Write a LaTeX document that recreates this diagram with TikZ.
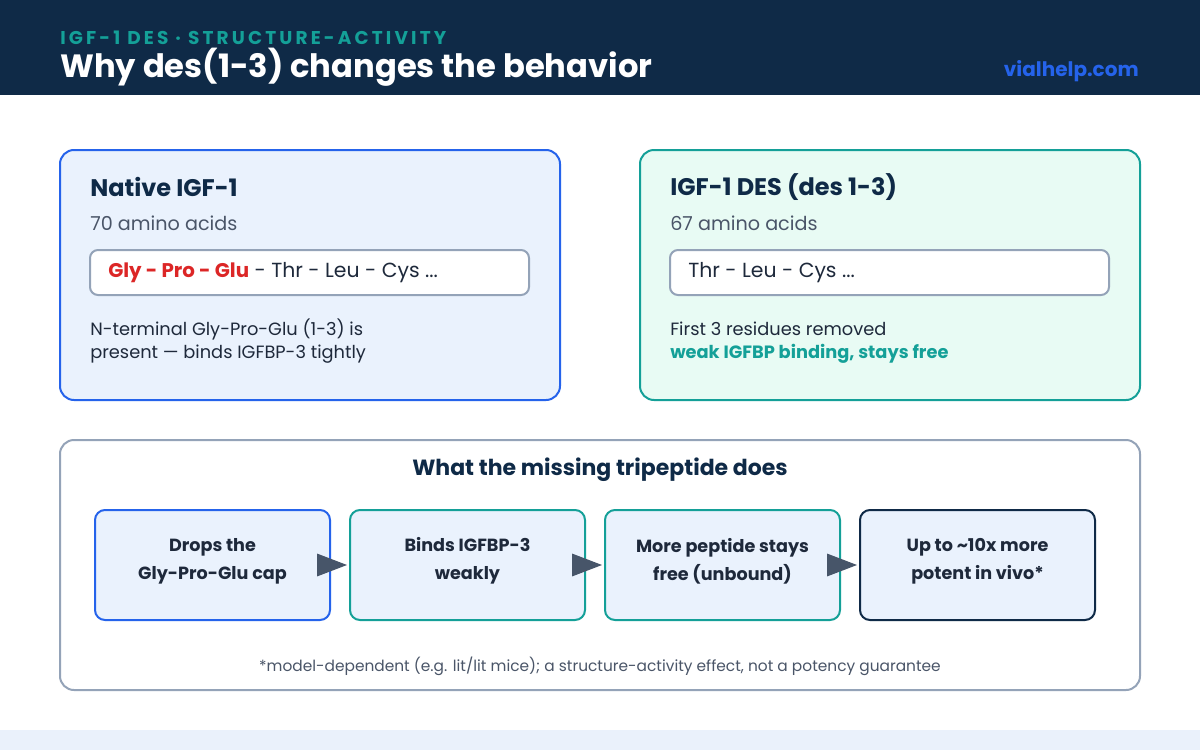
\documentclass[tikz,border=0pt]{standalone}
\usepackage{fontspec}
\setmainfont{Poppins}
\usetikzlibrary{arrows.meta}
\definecolor{navy}{HTML}{0F2A47}
\definecolor{tealc}{HTML}{14A098}
\definecolor{bluec}{HTML}{2563EB}
\definecolor{redc}{HTML}{DC2626}
\definecolor{grayb}{HTML}{94A3B8}
\definecolor{grayt}{HTML}{4A5568}
\definecolor{darkt}{HTML}{1E293B}
\definecolor{lightblue}{HTML}{EAF2FD}
\definecolor{mint}{HTML}{E8FBF4}
\definecolor{arrowc}{HTML}{475569}
\definecolor{strip}{HTML}{EAF1FB}
\newcommand{\fpx}[1]{\fontsize{\dimexpr #1pt*3/4\relax}{\dimexpr #1pt*9/10\relax}\selectfont}
\tikzset{
  card/.style={draw, line width=1.5pt, rounded corners=10.5pt},
  seqbox/.style={draw=grayb, fill=white, line width=1.5pt, rounded corners=6pt},
  stepbox/.style={draw, fill=lightblue, line width=1.5pt, rounded corners=7.5pt, minimum width=176.25pt, minimum height=82.5pt},
  steptext/.style={align=center, inner sep=0pt, font=\fpx{17.6}\bfseries, text=darkt, execute at begin node={\setlength{\baselineskip}{21pt}}},
  flow/.style={draw=arrowc, line width=0.8pt, -{Triangle[length=22.5pt,width=17pt]}, arrowc},
  txt/.style={anchor=west, inner sep=0pt},
}
\begin{document}
\begin{tikzpicture}[x=0.75pt,y=-0.75pt]
\useasboundingbox (0,0) rectangle (1200,750);
\fill[white] (0,0) rectangle (1200,750);
\fill[navy] (0,0) rectangle (1200,95);
\fill[strip] (0,730) rectangle (1200,750);
\node[txt, text=tealc, font=\fpx{18.5}\bfseries\addfontfeatures{LetterSpace=17}] (sub) at (60,38) {IGF-1 DES · STRUCTURE-ACTIVITY};
\node[txt, text=white, font=\fpx{32.2}\bfseries] (title) at (60,67) {Why des(1-3) changes the behavior};
\node[anchor=east, inner sep=0pt, text=bluec, font=\fpx{20}\bfseries] (brand) at (1139,71) {vialhelp.com};

% card 1
\draw[card, draw=bluec, fill=lightblue] (60,150) rectangle (560,400);
\node[txt, text=navy, font=\fpx{24}\bfseries] (c1t) at (90,187) {Native IGF-1};
\node[txt, text=grayt, font=\fpx{19.2}] (c1s) at (90,223) {70 amino acids};
\draw[seqbox] (90,250) rectangle (529,295);
\node[txt, font=\fpx{20.4}, text=darkt] (c1q) at (108,273) {\textcolor{redc}{\fpx{19.8}\bfseries Gly - Pro - Glu} - Thr - Leu - Cys ...};
\node[txt, text=darkt, font=\fpx{17.8}] (c1d1) at (90,329) {N-terminal Gly-Pro-Glu (1-3) is};
\node[txt, text=darkt, font=\fpx{17.8}] (c1d2) at (90,354) {present — binds IGFBP-3 tightly};

% card 2
\draw[card, draw=tealc, fill=mint] (640,150) rectangle (1140,400);
\node[txt, text=navy, font=\fpx{24}\bfseries] (c2t) at (670,187) {IGF-1 DES (des 1-3)};
\node[txt, text=grayt, font=\fpx{19.2}] (c2s) at (670,223) {67 amino acids};
\draw[seqbox] (670,250) rectangle (1109,295);
\node[txt, font=\fpx{20.4}, text=darkt] (c2q) at (688,273) {Thr - Leu - Cys ...};
\node[txt, text=darkt, font=\fpx{17.8}] (c2d1) at (670,329) {First 3 residues removed};
\node[txt, text=tealc, font=\fpx{17.8}\bfseries] (c2d2) at (670,354) {weak IGFBP binding, stays free};

% bottom panel
\draw[card, draw=grayb, fill=white] (60,440) rectangle (1140,690);
\node[text=navy, font=\fpx{22}\bfseries, inner sep=0pt] (bt) at (600,470) {What the missing tripeptide does};
\node[stepbox, draw=bluec] (s1) at (212.5,565) {};
\node[stepbox, draw=tealc] (s2) at (467.5,565) {};
\node[stepbox, draw=tealc] (s3) at (722.5,565) {};
\node[stepbox, draw=navy] (s4) at (977.5,565) {};
\node[steptext] (t1) at (212.5,561) {Drops the\\Gly-Pro-Glu cap\vphantom{y}};
\node[steptext] (t2) at (467.5,561) {Binds IGFBP-3\\weakly};
\node[steptext] (t3) at (722.5,561) {More peptide stays\\free (unbound)};
\node[steptext] (t4) at (977.5,561) {Up to \textasciitilde10x more\\potent in vivo*};
\draw[flow] (s1.east) -- ([xshift=-1.5pt]s2.west);
\draw[flow] (s2.east) -- ([xshift=-1.5pt]s3.west);
\draw[flow] (s3.east) -- ([xshift=-1.5pt]s4.west);
\node[text=grayt, font=\fpx{15.4}, inner sep=0pt] (fn) at (600,666) {*model-dependent (e.g. lit/lit mice); a structure-activity effect, not a potency guarantee};
\end{tikzpicture}
\end{document}
